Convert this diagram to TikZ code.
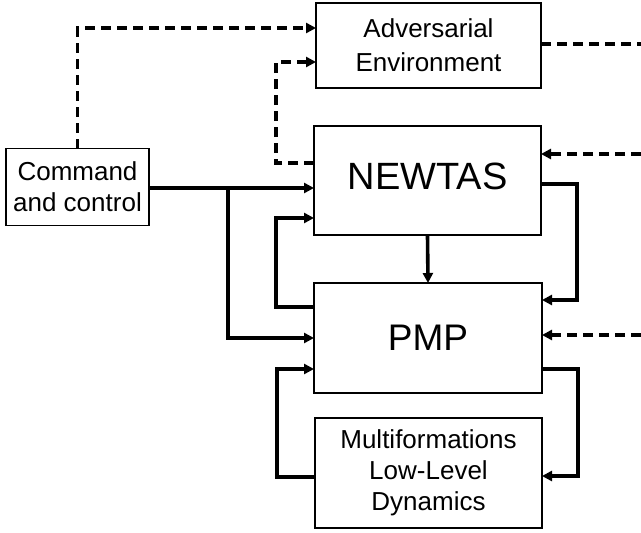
\documentclass[tikz,border=0pt]{standalone}
\usepackage{fontspec}
\setmainfont{Liberation Sans}
\usetikzlibrary{arrows.meta}
\begin{document}
\begin{tikzpicture}[x=1pt,y=-1pt,
  box/.style={draw,line width=1.3pt,outer sep=0pt,inner sep=0pt,align=center,
    font=\fontsize{26}{32}\selectfont},
  wire/.style={line width=3.6pt},
  dsh/.style={line width=3.4pt,dash pattern=on 10pt off 6pt},
  arr/.style={-{Triangle[length=10pt,width=10pt]}}]
\fill[white] (0,0) rectangle (641,533);
\useasboundingbox (0,0) rectangle (641,533);
\node[box,minimum width=225pt,minimum height=85pt,font=\fontsize{26}{34}\selectfont] (adv) at (428.5,45.5) {Adversarial\\Environment};
\node[box,minimum width=227pt,minimum height=109pt,font=\fontsize{38}{40}\selectfont] (newtas) at (427.5,180.5) {\raisebox{8pt}{NEWTAS}};
\node[box,minimum width=228pt,minimum height=110pt,font=\fontsize{37}{40}\selectfont] (pmp) at (428,338) {PMP};
\node[box,minimum width=227pt,minimum height=110pt,font=\fontsize{26}{31}\selectfont] (mf) at (428.5,473) {Multiformations\\Low-Level\\Dynamics};
\node[box,minimum width=143pt,minimum height=77pt,font=\fontsize{26}{31}\selectfont] (cc) at (77.5,187) {Command\\and control};
\coordinate (R0) at (641,44);
\coordinate (R1) at (641,154);
\coordinate (R2) at (641,335);
\coordinate (br) at (228,188);
% dashed
\draw[dsh,arr] (cc.north) |- ([yshift=17.5pt]adv.west);
\draw[dsh,arr] ([yshift=17.5pt]newtas.west) -- ++(-38,0) |- ([yshift=-16.5pt]adv.west);
\draw[dsh] (R0 -| adv.east) -- (R0);
\draw[dsh,arr] (R1) -- (R1 -| newtas.east);
\draw[dsh,arr] (R2) -- (R2 -| pmp.east);
% solid
\draw[wire,arr] (cc.east |- br) -- (br -| newtas.west);
\draw[wire,arr] (br) |- (pmp.west);
\draw[wire,arr] ([yshift=31pt]pmp.west) -- ++(-38,0) |- ([yshift=-37.5pt]newtas.west);
\draw[wire,arr] (newtas.south) -- (pmp.north);
\draw[wire,arr] ([yshift=-3.5pt]newtas.east) -- ++(36,0) |- ([yshift=38pt]pmp.east);
\draw[wire,arr] ([yshift=-31pt]pmp.east) -- ++(36,0) |- ([yshift=-3pt]mf.east);
\draw[wire,arr] ([yshift=-4pt]mf.west) -- ++(-38,0) |- ([yshift=-31pt]pmp.west);
\end{tikzpicture}
\end{document}
